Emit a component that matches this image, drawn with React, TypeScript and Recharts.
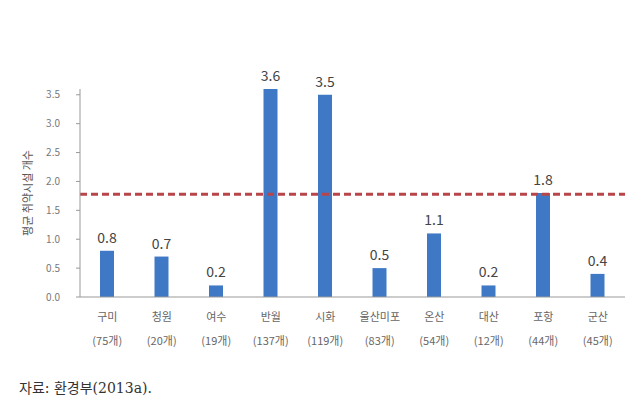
import { Bar, BarChart, LabelList, ReferenceLine, XAxis, YAxis } from "recharts";

const regions = ["구미", "청원", "여수", "반월", "시화", "울산미포", "온산", "대산", "포항", "군산"];
const counts = ["(75개)", "(20개)", "(19개)", "(137개)", "(119개)", "(83개)", "(54개)", "(12개)", "(44개)", "(45개)"];
const values = [0.8, 0.7, 0.2, 3.6, 3.5, 0.5, 1.1, 0.2, 1.8, 0.4];
const yTicks = [0, 0.5, 1, 1.5, 2, 2.5, 3, 3.5];
const average = 1.78;

const data = regions.map((name, i) => ({ name, count: counts[i], value: values[i] }));

const FONT = "'Noto Sans CJK KR', 'Noto Sans', sans-serif";

function RegionTick(props: any) {
  const { x, y, payload, index } = props;
  return (
    <g transform={`translate(${x},${y})`}>
      <text x={0} y={16} textAnchor="middle" fontSize={11} fill="#666" fontFamily={FONT}>
        {payload.value}
      </text>
      <text x={0} y={40} textAnchor="middle" fontSize={11} fill="#666" fontFamily={FONT}>
        {counts[index]}
      </text>
    </g>
  );
}

export default function App() {
  return (
    <div style={{ position: "relative", width: 644, height: 409, margin: -8, background: "#fff", overflow: "hidden" }}>
      <BarChart
        width={644}
        height={409}
        data={data}
        margin={{ top: 89, right: 19, left: 20, bottom: 52 }}
        barCategoryGap="37%"
      >
        <XAxis
          dataKey="name"
          height={60}
          interval={0}
          tickLine={false}
          axisLine={{ stroke: "#999" }}
          tick={<RegionTick />}
        />
        <YAxis
          width={60}
          domain={[0, 3.6]}
          ticks={yTicks}
          tickFormatter={(v: number) => v.toFixed(1)}
          tickSize={4}
          tickMargin={16}
          tick={{ fontSize: 10, fill: "#777", fontFamily: FONT }}
          axisLine={{ stroke: "#999" }}
          tickLine={{ stroke: "#999" }}
          label={{
            value: "평균 취약시설 개수",
            angle: -90,
            position: "insideLeft",
            offset: 8,
            style: { fontSize: 11, fill: "#555", fontFamily: FONT, textAnchor: "middle" },
          }}
        />
        <Bar dataKey="value" fill="#3F78C4" barSize={14} isAnimationActive={false}>
          <LabelList
            dataKey="value"
            position="top"
            offset={8}
            formatter={(v: number) => v.toFixed(1)}
            style={{ fontSize: 14, fill: "#444", fontFamily: FONT }}
          />
        </Bar>
        <ReferenceLine y={average} stroke="#B8454A" strokeWidth={3} strokeDasharray="7 4" ifOverflow="extendDomain" />
      </BarChart>
      <div
        style={{
          position: "absolute",
          left: 19,
          top: 377,
          fontSize: 14,
          color: "#333",
          fontFamily: "'DejaVu Serif', 'Noto Sans CJK KR', serif",
        }}
      >
        자료: 환경부(2013a).
      </div>
    </div>
  );
}
